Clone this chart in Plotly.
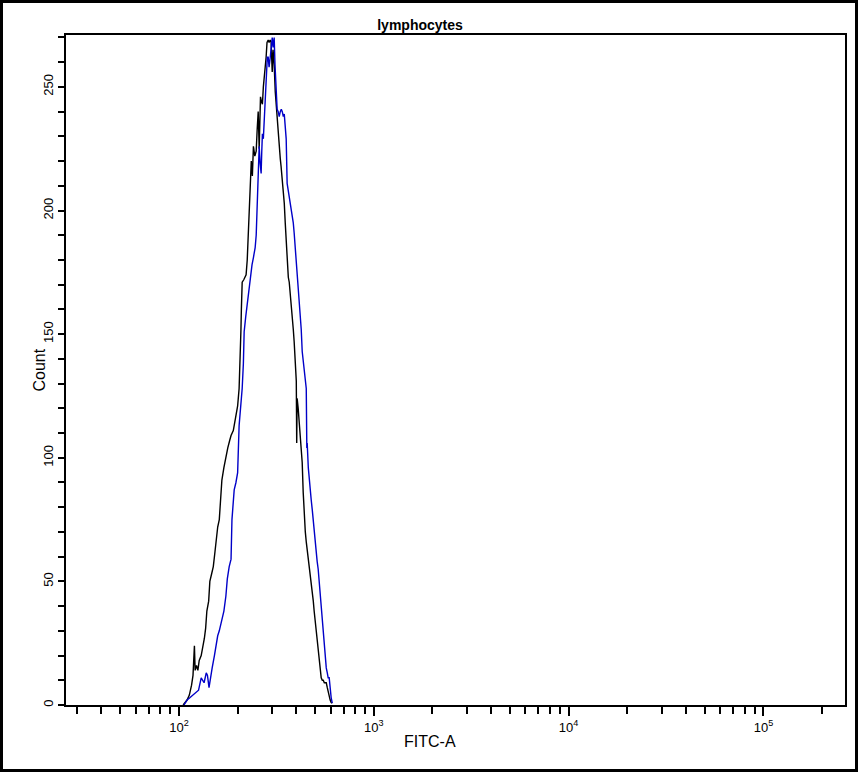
import plotly.graph_objects as go

# FITC-A channel values and counts
black_fitc = [105, 107, 110, 113, 116, 118, 120, 121, 123, 125, 127, 130, 133, 135, 137, 139,
              142, 144, 147, 150, 153, 155, 158, 161, 164, 166, 170, 174, 178, 182, 185, 190,
              196, 200, 203.5, 206, 208, 209, 211, 215, 221, 224, 227, 229, 232, 235, 238,
              241, 245, 249, 252, 255, 258, 262, 265, 268, 271, 274, 277, 280, 283, 287,
              290, 294, 297, 301, 304, 308, 312, 315, 319, 323, 327, 331, 334, 338, 342,
              347, 351, 355, 359, 364, 368, 372, 377, 381, 386, 390, 395, 400, 402, 404,
              409, 414, 419, 424, 429, 434, 439, 445, 450, 455, 461, 467, 472, 477, 483,
              489, 494, 500, 506, 512, 518, 524, 531, 537, 544, 550, 557, 564, 570, 577,
              584, 590, 597, 604, 612]
black_count = [0, 1, 2, 4, 8, 12, 24, 14, 16, 14, 18, 20, 24, 27, 31, 38,
               42, 50, 53, 56, 62, 67, 72, 75, 87, 91, 96, 101, 104, 107, 109, 111,
               117, 121, 128, 139, 152, 160, 171, 172, 174, 180, 190, 200, 205, 220, 214,
               226, 222, 224, 233, 240, 225, 246, 244, 243, 250, 254, 256, 262, 268, 269,
               268, 269, 268, 256, 265, 259, 248, 243, 237, 231, 225, 221, 218, 214, 210,
               203, 195, 186, 178, 173, 171, 167, 163, 157, 152, 147, 140, 131, 106, 124,
               120, 115, 111, 106, 98, 86, 76, 70, 66, 63, 60, 56, 52, 49, 46,
               42, 38, 34, 29, 25, 21, 18, 14, 11, 10, 10, 9, 9, 9, 7,
               5, 3, 2, 1, 0.8]

blue_fitc = [106, 110, 114, 118, 122, 126, 130, 132, 134.5, 138, 140, 142.6, 145, 148, 152,
             155, 158, 161, 165, 170, 174, 177, 181, 185, 187, 190, 192, 196, 200, 203.5,
             207, 211, 214, 216, 220, 225, 229, 233, 237, 241, 246, 249, 252, 255, 258,
             261, 264, 266, 268, 271, 274, 277, 280, 284, 287, 290, 294, 297, 301, 304,
             308, 311, 315, 319, 323, 327, 331, 335, 339, 343, 347, 351, 355, 359, 364,
             368, 372, 377, 381, 386, 390, 395, 400, 405, 409, 414, 419, 424, 429, 435,
             440, 445, 450, 453, 455, 461, 466, 472, 477, 483, 489, 494, 500, 506, 512,
             518, 524, 530, 537, 543, 550, 557, 563, 570, 577, 583, 590, 597, 604, 612]
blue_count = [0, 2, 3, 4, 5, 6, 11, 10, 9, 13, 12, 7, 11, 15, 20,
              25, 28, 30, 34, 38, 44, 51, 56, 59, 75, 82, 87, 90, 94, 113,
              119, 128, 138, 151, 157, 164, 170, 174, 178, 181, 185, 190, 200, 210, 226,
              219, 215, 224, 231, 229, 238, 248, 255, 262, 262, 258, 262, 265, 270, 266,
              270, 259, 249, 241, 240, 238, 240, 241, 240, 238, 239, 233, 229, 211, 208,
              206, 204, 202, 198, 195, 191, 185, 180, 174, 170, 165, 158, 152, 143, 138,
              134, 131, 128, 104, 106, 96, 91, 88, 83, 79, 74, 70, 68, 63, 58,
              55, 50, 44, 39, 35, 27, 22, 18, 15, 13, 11, 11, 6, 3, 0.8]

x_tickvals = [30, 40, 50, 60, 70, 80, 90, 100, 200, 300, 400, 500, 600, 700, 800, 900,
              1000, 2000, 3000, 4000, 5000, 6000, 7000, 8000, 9000,
              10000, 20000, 30000, 40000, 50000, 60000, 70000, 80000, 90000,
              100000, 200000]
decades = [100, 1000, 10000, 100000]
decade_labels = ["10<sup>2</sup>", "10<sup>3</sup>", "10<sup>4</sup>", "10<sup>5</sup>"]

y_tickvals = list(range(0, 280, 10))
y_labels = {0: "0", 50: "50", 100: "100", 150: "150", 200: "200", 250: "250"}

W, H = 858, 772
L, R, T, B = 66, 13, 35, 67
pw, ph = W - L - R, H - T - B

fig = go.Figure()
fig.add_trace(go.Scatter(x=black_fitc, y=black_count, mode="lines",
                         line=dict(color="black", width=1.4), showlegend=False))
fig.add_trace(go.Scatter(x=blue_fitc, y=blue_count, mode="lines",
                         line=dict(color="#0000c8", width=1.4), showlegend=False))

fig.update_layout(
    width=W, height=H,
    margin=dict(l=L, r=R, t=T, b=B),
    paper_bgcolor="white", plot_bgcolor="white",
    font=dict(family="Liberation Sans, Arial, sans-serif", color="black", size=12),
    title=dict(text="<b>lymphocytes</b>", x=420 / W, xanchor="center",
               y=1 - 25 / H, yanchor="middle", font=dict(size=14)),
    xaxis=dict(
        type="log", range=[1.42, 5.4185],
        tickmode="array", tickvals=decades, ticktext=decade_labels,
        ticks="outside", ticklen=9, tickwidth=2, tickcolor="black",
        minor=dict(tickmode="array", tickvals=[v for v in x_tickvals if v not in decades],
                   ticks="outside", ticklen=7, tickwidth=2, tickcolor="black"),
        showline=True, linecolor="black", linewidth=2, mirror=True,
        showgrid=False, zeroline=False, tickfont=dict(size=13),
    ),
    yaxis=dict(
        range=[0, 271],
        tickmode="array", tickvals=y_tickvals,
        ticktext=[y_labels.get(v, "") for v in y_tickvals],
        tickangle=-90,
        ticks="outside", ticklen=6, tickwidth=2, tickcolor="black",
        showline=True, linecolor="black", linewidth=2, mirror=True,
        showgrid=False, zeroline=False, tickfont=dict(size=13),
    ),
)

# axis titles
fig.add_annotation(text="Count", xref="paper", yref="paper", x=0, y=0.5,
                   xshift=-38, textangle=-90, showarrow=False,
                   font=dict(size=16))
fig.add_annotation(text="FITC-A", xref="paper", yref="paper", x=(430 - L) / pw, y=0,
                   yshift=-47, showarrow=False, font=dict(size=16))

# outer frame around the whole picture
fig.add_shape(type="rect", xref="paper", yref="paper",
              x0=(1.5 - L) / pw, x1=(W - 1.5 - L) / pw,
              y0=-(B - 1.5) / ph, y1=1 + (T - 1.5) / ph,
              line=dict(color="black", width=3))

fig.write_html("out.html", config={"displayModeBar": False},
               post_script="document.body.style.margin='0';document.body.style.overflow='hidden';")
